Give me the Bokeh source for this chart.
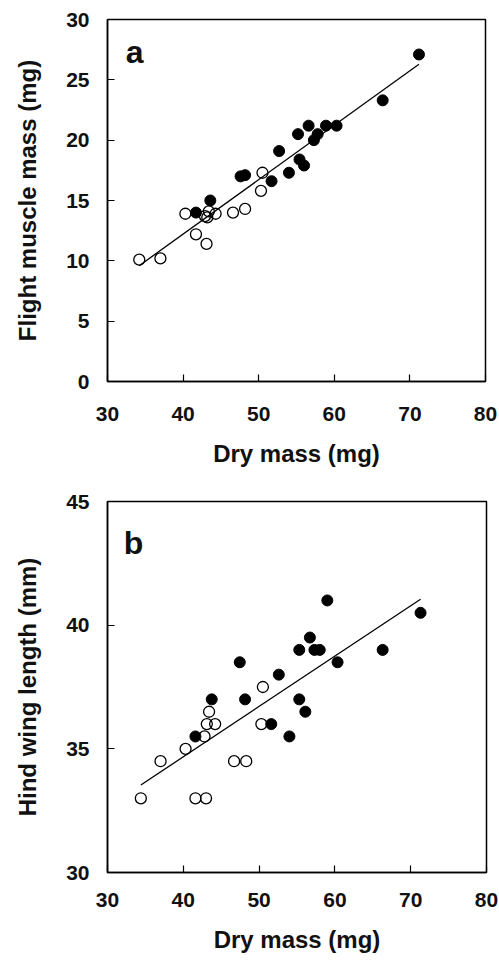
import numpy as np
from bokeh.plotting import figure
from bokeh.layouts import column
from bokeh.models import Range1d, FixedTicker, Label
from bokeh.embed import file_html
from bokeh.resources import INLINE

# ---- Panel a: flight muscle mass vs dry mass ----
a_open_x = [34.2, 37.0, 40.3, 41.7, 43.1, 42.9, 43.2, 43.4, 44.3, 46.6, 48.2, 50.3, 50.5]
a_open_y = [10.1, 10.2, 13.9, 12.2, 11.4, 13.7, 13.6, 14.1, 13.9, 14.0, 14.3, 15.8, 17.3]
a_fill_x = [41.7, 43.6, 47.6, 48.2, 51.7, 52.7, 54.0, 55.2, 55.4, 56.0, 56.6, 57.3, 57.8, 58.9, 60.3, 66.4, 71.2]
a_fill_y = [14.0, 15.0, 17.0, 17.1, 16.6, 19.1, 17.3, 20.5, 18.4, 17.9, 21.2, 20.0, 20.5, 21.2, 21.2, 23.3, 27.1]

# ---- Panel b: hind wing length vs dry mass ----
b_open_x = [34.4, 37.0, 40.3, 41.6, 43.0, 42.8, 43.1, 43.4, 44.2, 46.7, 48.3, 50.3, 50.5]
b_open_y = [33.0, 34.5, 35.0, 33.0, 33.0, 35.5, 36.0, 36.5, 36.0, 34.5, 34.5, 36.0, 37.5]
b_fill_x = [41.6, 43.75, 47.45, 48.15, 51.6, 52.6, 54.0, 55.3, 55.3, 56.1, 56.7, 57.3, 58.0, 59.0, 60.35, 66.3, 71.3]
b_fill_y = [35.5, 37.0, 38.5, 37.0, 36.0, 38.0, 35.5, 39.0, 37.0, 36.5, 39.5, 39.0, 39.0, 41.0, 38.5, 39.0, 40.5]

x_ticks = [30, 40, 50, 60, 70, 80]
a_y_ticks = [0, 5, 10, 15, 20, 25, 30]
b_y_ticks = [30, 35, 40, 45]

FONT = "Liberation Sans"


def style(p, xticks, yticks, x_standoff, xlab_standoff):
    p.grid.visible = False
    p.outline_line_color = "black"
    p.outline_line_width = 1.5
    p.background_fill_color = "white"
    p.border_fill_color = "white"
    p.xaxis.ticker = FixedTicker(ticks=xticks)
    p.yaxis.ticker = FixedTicker(ticks=yticks)
    for ax in p.axis:
        ax.major_tick_in = 7
        ax.major_tick_out = 0
        ax.minor_tick_line_color = None
        ax.axis_line_width = 1.5
        ax.major_tick_line_width = 1.2
        ax.major_label_text_font = FONT
        ax.major_label_text_font_style = "bold"
        ax.major_label_text_font_size = "21px"
        ax.major_label_text_color = "#111111"
        ax.axis_label_text_font = FONT
        ax.axis_label_text_font_style = "bold"
        ax.axis_label_text_font_size = "24px"
        ax.axis_label_text_color = "#111111"
    p.yaxis.major_label_standoff = 18
    p.yaxis.axis_label_standoff = 22
    p.xaxis.major_label_standoff = x_standoff
    p.xaxis.axis_label_standoff = xlab_standoff


def panel(ox, oy, fx, fy, **kw):
    p = figure(output_backend="svg", toolbar_location=None, **kw)
    allx = np.array(ox + fx)
    ally = np.array(oy + fy)
    k, c = np.polyfit(allx, ally, 1)
    xs = np.array([allx.min(), allx.max()])
    p.line(xs, k * xs + c, line_color="black", line_width=1.3)
    p.scatter(fx, fy, size=11, marker="circle", fill_color="black", line_color="black", line_width=1.0)
    p.scatter(ox, oy, size=11, marker="circle", fill_color=None, line_color="black", line_width=1.3)
    return p


pa = panel(a_open_x, a_open_y, a_fill_x, a_fill_y,
           frame_width=378, frame_height=362,
           min_border_left=105, min_border_right=14, min_border_top=19, min_border_bottom=99,
           x_range=Range1d(30, 80), y_range=Range1d(0, 30))
style(pa, x_ticks, a_y_ticks, 25, 16)
pa.xaxis.axis_label = "Dry mass (mg)"
pa.yaxis.axis_label = "Flight muscle mass (mg)"
pa.add_layout(Label(x=32.4, y=27.3, text="a", text_font=FONT, text_font_style="bold",
                    text_font_size="32px", text_baseline="alphabetic", text_color="#111111"))

pb = panel(b_open_x, b_open_y, b_fill_x, b_fill_y,
           frame_width=379, frame_height=371,
           min_border_left=107, min_border_right=13, min_border_top=21, min_border_bottom=89,
           x_range=Range1d(30, 80), y_range=Range1d(30, 45))
style(pb, x_ticks, b_y_ticks, 20, 16)
pb.xaxis.axis_label = "Dry mass (mg)"
pb.yaxis.axis_label = "Hind wing length (mm)"
pb.add_layout(Label(x=32.15, y=43.33, text="b", text_font=FONT, text_font_style="bold",
                    text_font_size="32px", text_baseline="alphabetic", text_color="#111111"))

layout = column(pa, pb, spacing=0)
open("out.html", "w").write(file_html(layout, INLINE))
